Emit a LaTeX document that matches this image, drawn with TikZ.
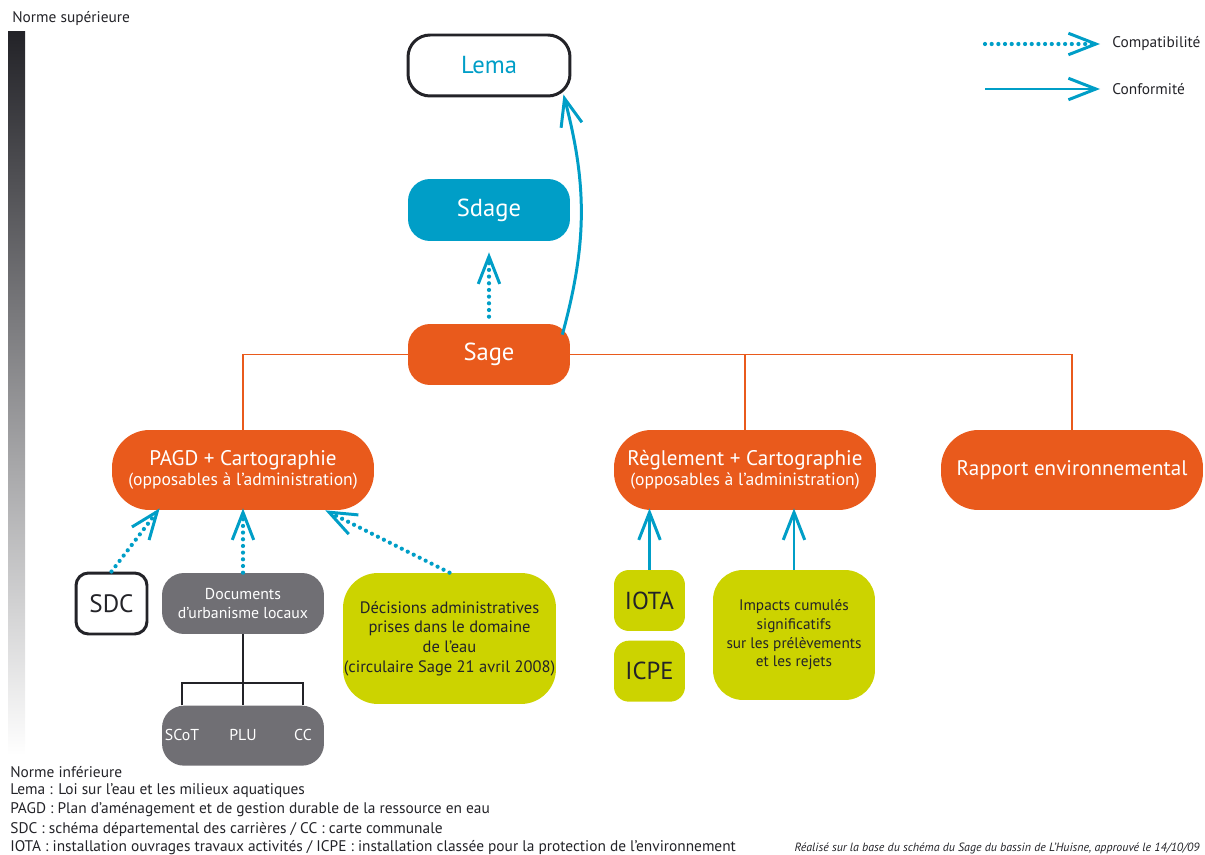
\documentclass[tikz,border=0pt]{standalone}
\usepackage{fontspec}
\setmainfont{PT Sans}
\usepackage{tikz}
\usetikzlibrary{arrows.meta, positioning, calc, shapes}

\definecolor{sageorange}{RGB}{233,90,28}
\definecolor{sageblue}{RGB}{0,158,199}
\definecolor{sagelime}{RGB}{204,211,0}
\definecolor{sagegray}{RGB}{112,111,116}
\definecolor{textdark}{RGB}{35,35,40}

\tikzset{
    box/.style={rectangle, rounded corners=0.44cm, inner sep=0pt, align=center},
    orangebox/.style={box, fill=sageorange, text=white},
    limebox/.style={box, fill=sagelime, text=textdark},
    graybox/.style={box, fill=sagegray, text=white},
    compat/.style={draw=sageblue, line width=2.4pt, line cap=round, dash pattern=on 0pt off 3.8pt,
        -{Straight Barb[length=5.5mm, width=4.3mm, line width=1.7pt]}},
    conform/.style={draw=sageblue, line width=1.7pt,
        -{Straight Barb[length=5.5mm, width=4.3mm, line width=1.7pt]}},
    tree/.style={draw=sageorange, line width=1.1pt},
    note/.style={anchor=west, inner sep=0pt, text=textdark, font=\fontsize{8.75}{10}\selectfont}
}

\begin{document}
\begin{tikzpicture}[x=0.02cm, y=-0.02cm]
    \useasboundingbox (0,0) rectangle (1205,855);

    % echelle des normes
    \shade[top color=textdark, bottom color=white] (8,32) rectangle (25,755);
    \node (Sup) [note] at (12,19) {Norme supérieure};
    \node (Inf) [note] at (10,772) {Norme inférieure};

    % niveau superieur
    \node (Lema) [box, draw=textdark, line width=1.7pt, fill=white, text=sageblue,
        minimum width=3.24cm, minimum height=1.22cm, font=\fontsize{14}{16}\selectfont]
        at (489,65.5) {Lema};
    \node (Sdage) [box, fill=sageblue, text=white, minimum width=3.24cm, minimum height=1.24cm,
        font=\fontsize{14}{16}\selectfont] at (489,210) {\raisebox{-1.2pt}{Sdage}};
    \node (Sage) [orangebox, minimum width=3.24cm, minimum height=1.22cm,
        font=\fontsize{14}{16}\selectfont] at (489,354.5) {\raisebox{-1.2pt}{Sage}};

    % documents du Sage
    \node (PAGD) [orangebox, rounded corners=0.75cm, minimum width=5.24cm, minimum height=1.6cm]
        at (243,470) {\fontsize{12}{14}\selectfont PAGD + Cartographie\\[-1pt]
        \fontsize{10}{12}\selectfont (opposables à l’administration)};
    \node (Reglement) [orangebox, rounded corners=0.75cm, minimum width=5.24cm, minimum height=1.6cm]
        at (745,470) {\fontsize{12}{14}\selectfont Règlement + Cartographie\\[-1pt]
        \fontsize{10}{12}\selectfont (opposables à l’administration)};
    \node (Rapport) [orangebox, rounded corners=0.75cm, minimum width=5.24cm, minimum height=1.6cm,
        font=\fontsize{12}{14}\selectfont] at (1072,470) {Rapport environnemental};

    % niveau inferieur
    \node (SDC) [box, rounded corners=0.25cm, draw=textdark, line width=1.7pt, fill=white,
        text=textdark, minimum width=1.42cm, minimum height=1.22cm,
        font=\fontsize{14.3}{16}\selectfont] at (111.5,603.5) {SDC};
    \node (DocUrba) [graybox, minimum width=3.24cm, minimum height=1.22cm,
        font=\fontsize{9}{11}\selectfont] at (243,603.5) {Documents\\d’urbanisme locaux};
    \node (Urba) [graybox, minimum width=3.24cm, minimum height=1.2cm,
        below=1.42cm of DocUrba] {};
    \node (SCoT) [text=white, font=\fontsize{9}{11}\selectfont] at (182,735) {SCoT};
    \node (PLU) [text=white, font=\fontsize{9}{11}\selectfont] at (243,735) {PLU};
    \node (CC) [text=white, font=\fontsize{9}{11}\selectfont] at (303,735) {CC};
    \node (Decisions) [limebox, rounded corners=0.7cm, minimum width=4.26cm, minimum height=2.62cm,
        font=\fontsize{9.4}{11.2}\selectfont] at (449.5,638.5)
        {Décisions administratives\\prises dans le domaine\\de l’eau\\(circulaire Sage 21 avril 2008)};
    \node (IOTA) [limebox, rounded corners=0.3cm, minimum width=1.42cm, minimum height=1.22cm,
        font=\fontsize{14}{16}\selectfont] at (649.5,600.5) {IOTA};
    \node (ICPE) [limebox, rounded corners=0.3cm, minimum width=1.42cm, minimum height=1.22cm,
        font=\fontsize{14}{16}\selectfont, below=0.18cm of IOTA] {ICPE};
    \node (Impacts) [limebox, rounded corners=0.6cm, minimum width=3.24cm, minimum height=2.6cm,
        font=\fontsize{8.7}{10.6}\selectfont] at (794,635)
        {Impacts cumulés\\significatifs\\sur les prélèvements\\et les rejets};

    % arborescence du Sage
    \draw[tree] (Sage.west) -| (PAGD.north);
    \draw[tree] (Sage.east) -| (Rapport.north);
    \draw[tree] (Sage.east -| Reglement.north) -- (Reglement.north);

    % liens de compatibilite et de conformite
    \draw[compat, shorten <=0.14cm, shorten >=0.22cm] (Sage.north) -- (Sdage.south);
    \draw[conform] ($(Sage.north east)+(-8,11)$) to[bend right=15] ($(Lema.south east)+(-8,-3)$);
    \draw[compat] (SDC.north) -- ($(PAGD.south west)+(48,-2)$);
    \draw[compat] (DocUrba.north) -- ($(PAGD.south)+(0,-2)$);
    \draw[compat] (Decisions.north) -- ($(PAGD.south east)+(-49,0)$);
    \draw[conform] (IOTA.north) -- ($(IOTA.north |- Reglement.south)+(0,-2)$);
    \draw[conform] (Impacts.north) -- ($(Impacts.north |- Reglement.south)+(0,-2)$);

    % documents d'urbanisme
    \draw[textdark, line width=1.7pt] (DocUrba.south) -- (DocUrba.south |- Urba.north);
    \draw[textdark, line width=1.1pt] (SCoT |- Urba.north) -- ++(0,-22) -| (CC |- Urba.north);

    % legende
    \coordinate (CompStart) at (985,44);
    \coordinate (ConfStart) at (985,89);
    \node (Compat) [note] at (1112,44) {Compatibilité};
    \node (Conform) [note] at (1112,89) {Conformité};
    \draw[compat, shorten >=0.24cm] (CompStart) -- (Compat.west);
    \draw[conform, shorten >=0.24cm] (ConfStart) -- (Conform.west);

    % abreviations
    \node (NoteLema) [note] at (10,790.5) {Lema : Loi sur l'eau et les milieux aquatiques};
    \node (NotePAGD) [note] at (10,810) {PAGD : Plan d'aménagement et de gestion durable de la ressource en eau};
    \node (NoteSDC) [note] at (10,829.5) {SDC : schéma départemental des carrières / CC : carte communale};
    \node (NoteIOTA) [note] at (10,848) {IOTA : installation ouvrages travaux activités / ICPE : installation classée pour la protection de l’environnement};
    \node (Source) [note, anchor=east, font=\fontsize{6.8}{8}\selectfont\itshape] at (1200,848)
        {Réalisé sur la base du schéma du Sage du bassin de L’Huisne, approuvé le 14/10/09};
\end{tikzpicture}
\end{document}
